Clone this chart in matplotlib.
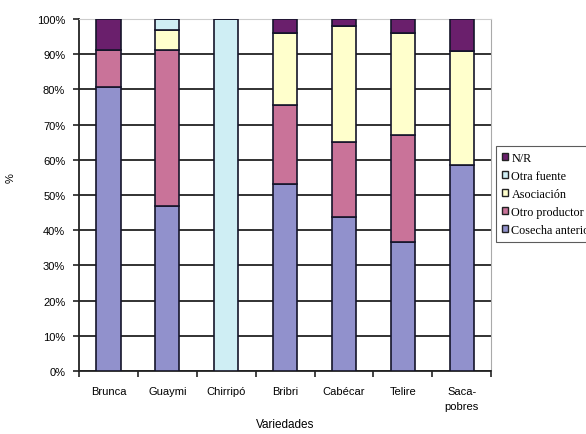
import matplotlib
matplotlib.use("Agg")
import matplotlib.pyplot as plt
import numpy as np
from matplotlib.patches import Patch

categories = ["Brunca", "Guaymi", "Chirripó", "Bribri", "Cabécar", "Telire", "Saca-\npobres"]
cosecha = [80.8, 46.9, 0.0, 53.1, 43.7, 36.7, 58.6]
otro_prod = [10.5, 44.4, 0.0, 22.5, 21.4, 30.2, 0.0]
asociacion = [0.0, 5.7, 0.0, 20.4, 32.8, 29.1, 32.2]
otra_fuente = [0.0, 3.0, 100.0, 0.0, 0.0, 0.0, 0.0]
nr = [8.7, 0.0, 0.0, 4.0, 2.1, 4.0, 9.2]

series = [
    ("Cosecha anterior", cosecha, "#9191cc"),
    ("Otro productor", otro_prod, "#c97399"),
    ("Asociación", asociacion, "#ffffcc"),
    ("Otra fuente", otra_fuente, "#cfeef4"),
    ("N/R", nr, "#6a1f6c"),
]

fig = plt.figure(figsize=(5.86, 4.35), dpi=100)
ax = fig.add_axes([0.135, 0.145, 0.703, 0.809])

x = np.arange(len(categories))
bottom = np.zeros(len(categories))
for name, vals, col in series:
    v = np.array(vals)
    ax.bar(x, v, bottom=bottom, width=0.41, color=col, edgecolor="#15152a",
           linewidth=1.2, zorder=3)
    bottom += v

ax.set_xlim(-0.5, len(categories) - 0.5)
ax.set_ylim(0, 100)
ax.set_yticks(np.arange(0, 101, 10))
ax.set_yticklabels([f"{v}%" for v in range(0, 101, 10)],
                   fontsize=8, family="Liberation Sans")
ax.yaxis.grid(True, color="#222222", linewidth=1.3, zorder=0)
ax.set_axisbelow(True)

ax.set_xticks(x)
ax.set_xticklabels(categories, fontsize=8, family="Liberation Sans", linespacing=1.6)
ax.tick_params(axis="x", which="major", length=0, pad=11)
ax.set_xticks(np.arange(-0.5, len(categories), 1), minor=True)
ax.tick_params(axis="x", which="minor", length=4, width=1.2, color="#222222")
ax.tick_params(axis="y", length=4, width=1.2, color="#222222", pad=6)

ax.spines["left"].set_color("#222222")
ax.spines["left"].set_linewidth(1.3)
ax.spines["bottom"].set_color("#222222")
ax.spines["bottom"].set_linewidth(1.3)
ax.spines["top"].set_color("#cccccc")
ax.spines["right"].set_color("#aaaaaa")

ax.set_ylabel("%", fontsize=8, family="Liberation Sans")
ax.yaxis.set_label_coords(-0.155, 0.55)
ax.set_xlabel("Variedades", fontsize=8.5, family="Liberation Sans")
ax.xaxis.set_label_coords(0.5, -0.135)

handles = [Patch(facecolor=col, edgecolor="#222222", linewidth=1.0, label=name)
           for name, vals, col in series][::-1]
leg = fig.legend(handles=handles, loc="upper left", bbox_to_anchor=(0.846, 0.663),
                 prop={"family": "Liberation Serif", "size": 8.7},
                 frameon=True, fancybox=False, edgecolor="#333333",
                 handlelength=0.55, handleheight=0.55, handletextpad=0.25,
                 labelspacing=0.5, borderpad=0.5, borderaxespad=0)
leg.get_frame().set_linewidth(0.8)

fig.savefig("out.png", dpi=100)
